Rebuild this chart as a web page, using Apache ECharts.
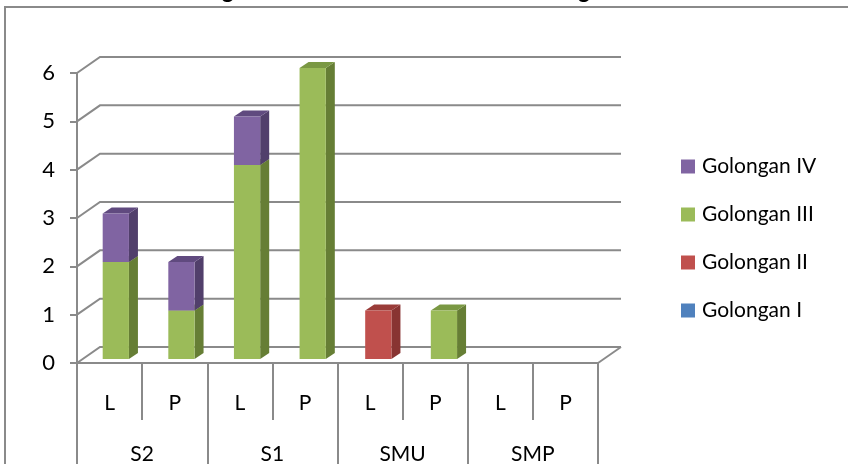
<!DOCTYPE html>
<html>
<head>
<meta charset="utf-8">
<script src="https://cdn.jsdelivr.net/npm/echarts@6/dist/echarts.min.js"></script>
<style>
  html, body { margin: 0; padding: 0; background: #ffffff; }
  #chart { width: 848px; height: 464px; }
</style>
</head>
<body>
<div id="chart"></div>
<script>
// Staff counts by education level, gender and civil-service grade
const levels = ['S2', 'S1', 'SMU', 'SMP'];
const genders = ['L', 'P', 'L', 'P', 'L', 'P', 'L', 'P'];
const golonganI   = [0, 0, 0, 0, 0, 0, 0, 0];
const golonganII  = [0, 0, 0, 0, 1, 0, 0, 0];
const golonganIII = [2, 1, 4, 6, 0, 1, 0, 0];
const golonganIV  = [1, 1, 1, 0, 0, 0, 0, 0];
const yTicks = [0, 1, 2, 3, 4, 5, 6];
const titleText = 'Tingkat Pendidikan Berdasarkan Golongan';

const FONT = 'Lato';
const GRID_COLOR = '#8a8a8a';
// depth of the back wall and of each column (pixels)
const WALL_DX = 23, WALL_DY = -16;
const BAR_DX = 9, BAR_DY = -6;

const seriesDefs = [
  { name: 'Golongan I',   values: golonganI,   front: '#4F81BD', side: '#365F8F', top: '#41699B' },
  { name: 'Golongan II',  values: golonganII,  front: '#C0504D', side: '#883432', top: '#9A3C39' },
  { name: 'Golongan III', values: golonganIII, front: '#9BBB59', side: '#667E35', top: '#7A9843' },
  { name: 'Golongan IV',  values: golonganIV,  front: '#8064A2', side: '#513F6B', top: '#604A7F' }
];

// stacked segments: [categoryIndex, base, top]
const running = genders.map(() => 0);
const stacked = seriesDefs.map(def => {
  const items = [];
  def.values.forEach((v, i) => {
    if (v > 0) items.push([i, running[i], running[i] + v]);
    running[i] += v;
  });
  return items;
});

function makeColumnRenderer(def) {
  return function (params, api) {
    const i = api.value(0);
    const lo = api.coord([i, api.value(1)]);
    const hi = api.coord([i, api.value(2)]);
    const band = api.size([1, 0])[0];
    const w = band * 0.4;
    const x0 = lo[0] - w / 2, x1 = lo[0] + w / 2;
    const yb = lo[1], yt = hi[1];
    return {
      type: 'group',
      children: [
        { type: 'polygon', shape: { points: [[x1, yb], [x1 + BAR_DX, yb + BAR_DY], [x1 + BAR_DX, yt + BAR_DY], [x1, yt]] },
          style: { fill: def.side } },
        { type: 'polygon', shape: { points: [[x0, yt], [x1, yt], [x1 + BAR_DX, yt + BAR_DY], [x0 + BAR_DX, yt + BAR_DY]] },
          style: { fill: def.top } },
        { type: 'rect', shape: { x: x0, y: yt, width: w, height: yb - yt },
          style: { fill: def.front } }
      ]
    };
  };
}

// back wall gridlines with their receding edges, plus the floor's right edge
function renderWall(params, api) {
  const v = api.value(0);
  const p = api.coord([0, v]);
  const band = api.size([1, 0])[0];
  const xL = p[0] - band / 2;
  const xR = xL + band * genders.length;
  const y = p[1];
  const children = [{
    type: 'polyline',
    shape: { points: [[xL, y], [xL + WALL_DX, y + WALL_DY], [xR + WALL_DX, y + WALL_DY]] },
    style: { stroke: GRID_COLOR, lineWidth: 2, fill: null }
  }];
  if (v === 0) {
    children.push({
      type: 'line',
      shape: { x1: xR, y1: y, x2: xR + WALL_DX, y2: y + WALL_DY },
      style: { stroke: GRID_COLOR, lineWidth: 2 }
    });
  }
  return { type: 'group', children };
}

const chart = echarts.init(document.getElementById('chart'));

const series = [{
  type: 'custom',
  name: 'wall',
  xAxisIndex: 0,
  yAxisIndex: 0,
  z: 1,
  silent: true,
  data: yTicks.map(v => [v]),
  encode: { y: 0 },
  renderItem: renderWall
}];

seriesDefs.forEach((def, k) => {
  series.push({
    type: 'custom',
    name: def.name,
    xAxisIndex: 2,
    yAxisIndex: 1,
    z: 3,
    itemStyle: { color: def.front },
    data: stacked[k],
    encode: { x: 0, y: [1, 2] },
    renderItem: makeColumnRenderer(def)
  });
});

chart.setOption({
  animation: false,
  backgroundColor: '#ffffff',
  textStyle: { fontFamily: FONT },
  graphic: [
    { type: 'rect', z: 0, shape: { x: 5, y: 7, width: 900, height: 520 },
      style: { fill: 'none', stroke: GRID_COLOR, lineWidth: 2 } },
    { type: 'text', x: 190, y: -9, z: 10,
      style: { text: titleText, font: 'bold 22.5px ' + FONT, fill: '#000000',
               align: 'left', verticalAlign: 'middle' } }
  ],
  legend: {
    orient: 'vertical',
    left: 681,
    top: 156,
    padding: 0,
    itemWidth: 14,
    itemHeight: 14,
    itemGap: 27,
    icon: 'rect',
    data: ['Golongan IV', 'Golongan III', 'Golongan II', 'Golongan I'],
    textStyle: { fontFamily: FONT, fontSize: 21, color: '#000000', padding: [0, 0, 0, 2] }
  },
  grid: [
    { left: 77, top: 73, width: 521, height: 290, outerBoundsMode: 'none' },
    { left: 83, top: 68, width: 525, height: 291, outerBoundsMode: 'none' }
  ],
  xAxis: [
    {
      gridIndex: 0, type: 'category', position: 'bottom', data: genders,
      axisLine: { show: true, lineStyle: { color: GRID_COLOR, width: 2 } },
      axisTick: { show: true, interval: 0, length: 57, lineStyle: { color: GRID_COLOR, width: 2 } },
      axisLabel: { interval: 0, margin: 30, fontSize: 21, color: '#000000', fontFamily: FONT },
      splitLine: { show: false }
    },
    {
      gridIndex: 0, type: 'category', position: 'bottom', data: levels,
      axisLine: { show: false },
      axisTick: { show: true, interval: 0, length: 110, lineStyle: { color: GRID_COLOR, width: 2 } },
      axisLabel: { interval: 0, margin: 81, fontSize: 21, color: '#000000', fontFamily: FONT },
      splitLine: { show: false }
    },
    {
      gridIndex: 1, type: 'category', data: genders, show: false
    }
  ],
  yAxis: [
    {
      gridIndex: 0, type: 'value', min: 0, max: 6, interval: 1,
      axisLine: { show: true, lineStyle: { color: GRID_COLOR, width: 2 } },
      axisTick: { show: true, length: 7, lineStyle: { color: GRID_COLOR, width: 2 } },
      axisLabel: { margin: 22, fontSize: 22, color: '#000000', fontFamily: FONT },
      splitLine: { show: false }
    },
    {
      gridIndex: 1, type: 'value', min: 0, max: 6, interval: 1, show: false,
      splitLine: { show: false }
    }
  ],
  series: series
});
</script>
</body>
</html>
